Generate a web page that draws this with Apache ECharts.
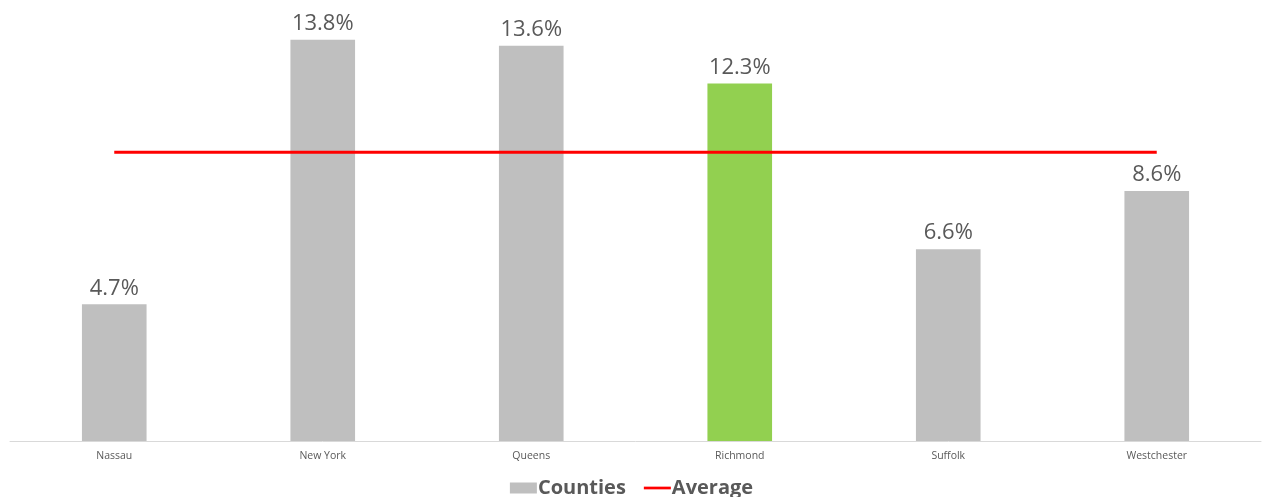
<!DOCTYPE html>
<html>
<head>
<meta charset="utf-8">
<script src="https://cdn.jsdelivr.net/npm/echarts@6/dist/echarts.min.js"></script>
<style>
  html, body { margin: 0; padding: 0; background: #ffffff; }
  #chart { width: 1263px; height: 497px; }
</style>
</head>
<body>
<div id="chart"></div>
<script>
// County rates with the regional average
const counties = ['Nassau', 'New York', 'Queens', 'Richmond', 'Suffolk', 'Westchester'];
const countyValues = [4.7, 13.8, 13.6, 12.3, 6.6, 8.6];
const averageValues = [9.93, 9.93, 9.93, 9.93, 9.93, 9.93];
const highlightCounty = 'Richmond';

const grey = '#bfbfbf';
const green = '#92d050';
const red = '#ff0000';
const textColor = '#595959';
const font = '"Open Sans", "Liberation Sans", sans-serif';

const chart = echarts.init(document.getElementById('chart'), null, { renderer: 'canvas' });

chart.setOption({
  animation: false,
  backgroundColor: '#ffffff',
  grid: { left: 10, right: 2, top: 34, bottom: 56, containLabel: false },
  legend: {
    bottom: -6,
    left: 'center',
    itemGap: 18,
    itemWidth: 27,
    itemHeight: 11,
    textStyle: { color: textColor, fontSize: 20, fontWeight: 'bold', fontFamily: font, padding: [0, 0, 0, -4] },
    data: [
      { name: 'Counties', icon: 'rect', itemStyle: { color: grey } },
      { name: 'Average', icon: 'path://M0,0 L30,0 L30,3 L0,3 Z', itemStyle: { color: red } }
    ]
  },
  xAxis: {
    type: 'category',
    data: counties,
    boundaryGap: true,
    axisLine: { show: true, lineStyle: { color: '#d9d9d9', width: 1 } },
    axisTick: { show: false },
    axisLabel: { color: textColor, fontSize: 10.5, fontFamily: font, margin: 10 },
    splitLine: { show: false }
  },
  yAxis: {
    type: 'value',
    min: 0,
    max: 14,
    show: false,
    splitLine: { show: false }
  },
  series: [
    {
      name: 'Counties',
      type: 'bar',
      barWidth: '31%',
      itemStyle: { color: grey },
      data: countyValues.map((v, i) => ({
        value: v,
        itemStyle: { color: counties[i] === highlightCounty ? green : grey }
      })),
      label: {
        show: true,
        position: 'top',
        distance: 5,
        color: textColor,
        fontSize: 22,
        fontFamily: font,
        formatter: p => p.value.toFixed(1) + '%'
      }
    },
    {
      name: 'Average',
      type: 'line',
      data: averageValues,
      symbol: 'none',
      lineStyle: { color: red, width: 3 },
      itemStyle: { color: red }
    }
  ]
});
</script>
</body>
</html>
